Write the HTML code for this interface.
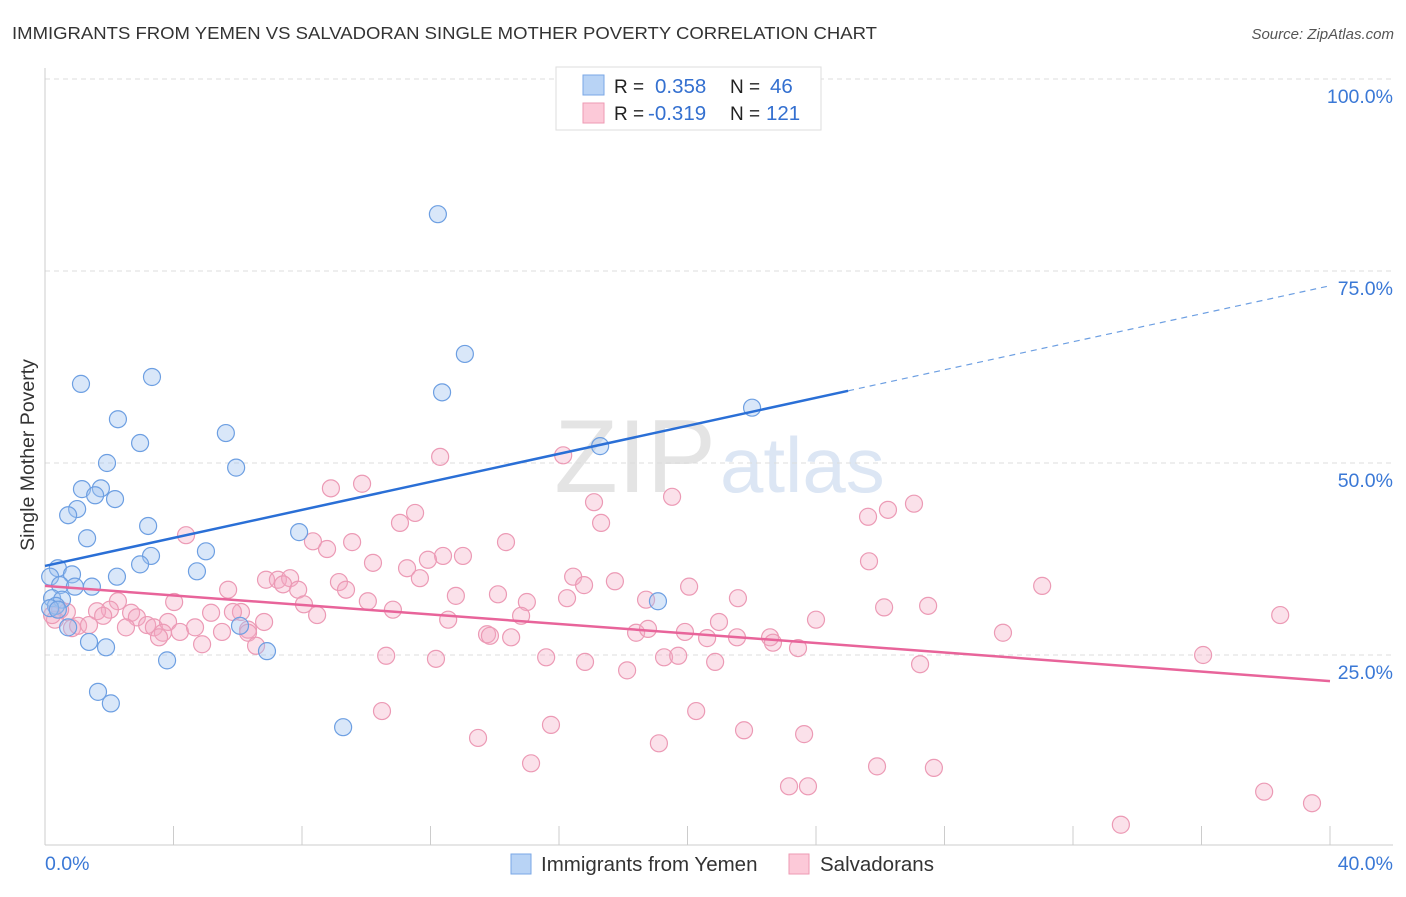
<!DOCTYPE html>
<html><head><meta charset="utf-8"><style>
body{margin:0;background:#fff;font-family:"Liberation Sans",sans-serif;}
svg text{font-family:"Liberation Sans",sans-serif;}
</style></head><body>
<svg id="chart" width="1406" height="892">
<text x="12" y="39" font-size="17.5" fill="#333" textLength="865" lengthAdjust="spacingAndGlyphs">IMMIGRANTS FROM YEMEN VS SALVADORAN SINGLE MOTHER POVERTY CORRELATION CHART</text>
<text x="1394" y="39" font-size="15" fill="#555" font-style="italic" text-anchor="end">Source: ZipAtlas.com</text>
<text x="0" y="0" font-size="19.5" fill="#333" text-anchor="middle" transform="translate(34,455) rotate(-90)">Single Mother Poverty</text>
<text x="716" y="492" font-size="104" fill="#e4e4e4" text-anchor="end" font-family="Liberation Serif">ZIP</text>
<text x="720" y="492" font-size="78" fill="#dce6f4">atlas</text>
<g id="grid"></g>
<g id="axes"></g>
<g id="pts"></g>
<g id="trend"></g>
<g>
<rect x="556" y="67" width="265" height="63" fill="#fff" stroke="#ddd"/>
<rect x="583" y="75" width="21" height="20" fill="#b8d3f5" stroke="#7aa7e6"/>
<rect x="583" y="103" width="21" height="20" fill="#fcc9d8" stroke="#ee9ab3"/>
<text x="614" y="93" font-size="19" fill="#222">R =</text><text x="655" y="93" font-size="20.5" fill="#3470d0">0.358</text>
<text x="730" y="93" font-size="19" fill="#222">N =</text><text x="770" y="93" font-size="20.5" fill="#3470d0">46</text>
<text x="614" y="120" font-size="19" fill="#222">R =</text><text x="648" y="120" font-size="20.5" fill="#3470d0">-0.319</text>
<text x="730" y="120" font-size="19" fill="#222">N =</text><text x="766" y="120" font-size="20.5" fill="#3470d0">121</text>
</g>
<g>
<rect x="511" y="854" width="20" height="20" fill="#b8d3f5" stroke="#7aa7e6"/>
<text x="541" y="871" font-size="20.5" fill="#333">Immigrants from Yemen</text>
<rect x="789" y="854" width="20" height="20" fill="#fcc9d8" stroke="#ee9ab3"/>
<text x="820" y="871" font-size="20.5" fill="#333">Salvadorans</text>
</g>
</svg>
<script>
const yTicks=[25,50,75,100];
const xTickLabels=["0.0%","40.0%"];
const blueX=[12.23,13.07,12.36,3.33,1.12,2.27,2.96,5.63,1.93,5.95,17.28,22.01,1.15,1.74,1.56,2.18,1.00,0.72,3.21,1.31,7.91,5.01,3.30,2.96,4.73,0.40,0.84,0.16,2.24,0.47,1.46,0.93,0.22,0.53,0.34,0.16,0.40,0.72,6.07,1.37,1.90,6.91,3.80,1.65,2.05,9.28,19.08];
const blueY=[82.4,64.2,59.2,61.2,60.3,55.7,52.6,53.9,50.0,49.4,52.2,57.2,46.6,46.7,45.8,45.3,44.0,43.2,41.8,40.2,41.0,38.5,37.9,36.8,35.9,36.3,35.5,35.2,35.2,34.1,33.9,33.9,32.4,32.2,31.4,31.1,30.9,28.6,28.8,26.7,26.0,25.5,24.3,20.2,18.7,15.6,32.0];
const pinkX=[12.30,16.13,8.90,9.87,17.09,19.52,17.31,11.52,11.05,25.62,26.24,27.05,4.39,8.34,8.78,9.56,14.35,13.01,12.39,11.92,10.21,11.27,11.67,6.88,7.25,7.63,7.41,7.88,5.70,9.15,9.37,16.44,17.74,16.78,20.05,25.65,31.04,12.79,14.10,15.00,16.25,18.71,21.57,8.06,10.05,10.83,14.82,26.12,27.49,38.45,2.27,4.02,5.17,6.10,5.85,2.02,2.68,1.62,2.86,0.68,0.47,0.31,0.22,0.84,1.03,1.37,1.81,2.52,3.18,3.39,3.83,4.20,4.67,5.51,6.32,6.82,8.47,12.55,20.98,24.00,18.40,18.77,19.92,20.61,21.54,22.57,22.66,23.44,13.76,13.85,14.51,3.67,3.55,6.32,4.89,6.57,10.62,12.17,15.60,16.81,19.27,19.71,20.86,18.12,27.24,29.82,36.05,10.49,15.75,20.27,21.76,13.48,19.11,23.63,15.13,23.16,23.75,25.90,27.67,33.49,37.95,39.44];
const pinkY=[50.8,51.0,46.7,47.3,44.9,45.6,42.2,43.5,42.2,43.0,43.9,44.7,40.6,39.8,38.8,39.7,39.7,37.9,37.9,37.4,37.0,36.3,35.0,34.8,34.8,35.0,34.2,33.5,33.5,34.5,33.5,35.2,34.6,34.1,33.9,37.2,34.0,32.7,32.9,31.9,32.4,32.2,32.4,31.6,32.0,30.9,30.1,31.2,31.4,30.2,32.0,31.9,30.5,30.6,30.6,30.9,30.5,30.7,29.9,30.6,30.9,29.6,30.2,28.5,28.8,28.9,30.1,28.6,28.9,28.6,29.3,28.0,28.6,28.0,28.3,29.3,30.2,29.6,29.3,29.6,27.9,28.4,28.0,27.2,27.3,27.3,26.6,25.9,27.7,27.5,27.3,27.9,27.3,27.9,26.4,26.2,24.9,24.5,24.7,24.1,24.7,24.9,24.1,23.0,23.8,27.9,25.0,17.7,15.9,17.7,15.2,14.2,13.5,14.7,10.9,7.9,7.9,10.5,10.3,2.9,7.2,5.7];
const blueTrend=[36.6,0.912];
const pinkTrend=[34.0,-0.31];
const blueSolidEnd=25.0;

const NS="http://www.w3.org/2000/svg";
const X0=45,X1=1330,Y0=847,PPY=7.68;
const sx=v=>X0+(X1-X0)*v/40;
const sy=v=>Y0-v*PPY;
function mk(tag,attrs,parent){const e=document.createElementNS(NS,tag);for(const k in attrs)e.setAttribute(k,attrs[k]);parent.appendChild(e);return e;}
const grid=document.getElementById('grid'),axes=document.getElementById('axes'),pts=document.getElementById('pts'),trend=document.getElementById('trend');
yTicks.forEach(t=>{
 const l=mk('line',{x1:45,x2:1393,y1:sy(t),y2:sy(t),stroke:'#ddd','stroke-dasharray':'5,4'},grid);
 
 
 const tx=mk('text',{x:1393,y:sy(t)+24,'font-size':19.5,fill:'#3a78d6','text-anchor':'end'},grid);
 tx.textContent=t.toFixed(1)+'%';
 
 
});
const ya=mk('line',{x1:45,x2:45,y1:68,y2:845,stroke:'#ccc'},axes);


const xa=mk('line',{x1:45,x2:1393,y1:845,y2:845,stroke:'#ccc'},axes);


for(let i=1;i<=10;i++){
 const t=mk('line',{x1:sx(i*4),x2:sx(i*4),y1:826,y2:845,stroke:'#ccc'},axes);
 
 
}
const xl0=mk('text',{x:45,y:870,'font-size':19.5,fill:'#3a78d6'},axes);xl0.textContent=xTickLabels[0];


const xl1=mk('text',{x:1393,y:870,'font-size':19.5,fill:'#3a78d6','text-anchor':'end'},axes);xl1.textContent=xTickLabels[1];


pinkX.forEach((x,i)=>{
 const c=mk('circle',{cx:sx(x),cy:sy(pinkY[i]),r:8.5,fill:'rgba(244,170,195,0.35)',stroke:'#ec9ab5','stroke-width':1.2},pts);
 
 
});
blueX.forEach((x,i)=>{
 const c=mk('circle',{cx:sx(x),cy:sy(blueY[i]),r:8.5,fill:'rgba(160,196,240,0.4)',stroke:'#6d9fe2','stroke-width':1.2},pts);
 
 
});
const bt=v=>blueTrend[0]+blueTrend[1]*v, pt=v=>pinkTrend[0]+pinkTrend[1]*v;
const b1=mk('line',{x1:sx(0),y1:sy(bt(0)),x2:sx(blueSolidEnd),y2:sy(bt(blueSolidEnd)),stroke:'#2a6fd6','stroke-width':2.5},trend);


const b2=mk('line',{x1:sx(blueSolidEnd),y1:sy(bt(blueSolidEnd)),x2:sx(40),y2:sy(bt(40)),stroke:'#6d9fe2','stroke-width':1.2,'stroke-dasharray':'6,5'},trend);


const p1=mk('line',{x1:sx(0),y1:sy(pt(0)),x2:sx(40),y2:sy(pt(40)),stroke:'#e8649a','stroke-width':2.5},trend);


</script>
</body></html>
